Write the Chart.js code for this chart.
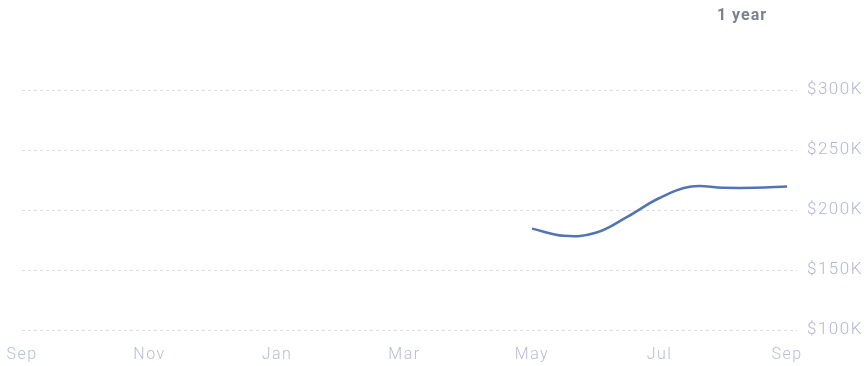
<!DOCTYPE html>
<html>
<head>
<meta charset="utf-8">
<script src="https://cdn.jsdelivr.net/npm/chart.js@4"></script>
<style>
  html, body { margin: 0; padding: 0; background: #fff; }
  #wrap { position: relative; width: 866px; height: 366px; }
  #range { position: absolute; top: 5px; left: 700px; width: 84px; text-align: center;
           font: bold 16px Roboto, sans-serif; color: #7c8094; letter-spacing: 1px; }
</style>
</head>
<body>
<div id="wrap">
  <div id="range">1 year</div>
  <canvas id="valueChart" width="866" height="366"></canvas>
</div>
<script>
// months counted from last September (0) to this September (12)
var monthNames = ['Sep', 'Oct', 'Nov', 'Dec', 'Jan', 'Feb', 'Mar', 'Apr', 'May', 'Jun', 'Jul', 'Aug', 'Sep'];
var monthTicks = [0, 2, 4, 6, 8, 10, 12];

// estimated value, thousands of dollars, every half month since May
var valueMonths = [8, 8.5, 9, 9.5, 10, 10.5, 11, 11.5, 12];
var valueK = [184.5, 178.5, 181, 194.5, 210, 219.5, 218.5, 218.5, 219.5];

var valueTicks = [100, 150, 200, 250, 300];

var points = [];
for (var i = 0; i < valueMonths.length; i++) {
  points.push({ x: valueMonths[i], y: valueK[i] });
}

// wider letter spacing for all axis text
var spacedText = {
  id: 'spacedText',
  beforeUpdate: function(chart) { chart.ctx.letterSpacing = '1.5px'; },
  beforeDraw: function(chart) { chart.ctx.letterSpacing = '1.5px'; }
};

var cx = document.getElementById('valueChart');
var myChart = new Chart(cx, {
  type: 'line',
  data: {
    datasets: [{
      data: points,
      borderColor: '#5274b6',
      borderWidth: 2.5,
      pointRadius: 0,
      fill: false,
      tension: 0.4
    }]
  },
  options: {
    responsive: false,
    animation: false,
    layout: { padding: { top: 90, left: 22, right: 4, bottom: 0 } },
    plugins: { legend: { display: false }, tooltip: { enabled: false } },
    scales: {
      x: {
        type: 'linear',
        min: 0,
        max: 12.157,
        afterBuildTicks: function(axis) {
          axis.ticks = monthTicks.map(function(v) { return { value: v }; });
        },
        afterFit: function(axis) {
          axis.height = 36;
          axis.paddingLeft = 0;
          axis.paddingRight = 0;
        },
        grid: { display: false, drawTicks: false },
        border: { display: false },
        ticks: {
          padding: 15,
          maxRotation: 0,
          autoSkip: false,
          color: '#b9bdd3',
          font: { family: 'Roboto', size: 16, weight: 300 },
          callback: function(v) { return monthNames[v]; }
        }
      },
      y: {
        position: 'right',
        min: 100,
        max: 300,
        afterBuildTicks: function(axis) {
          axis.ticks = valueTicks.map(function(v) { return { value: v }; });
        },
        afterFit: function(axis) {
          axis.width = 65;
          axis.paddingTop = 0;
          axis.paddingBottom = 0;
        },
        border: { display: false, dash: [3, 3] },
        grid: { color: '#dcdce2', lineWidth: 1, drawTicks: false },
        ticks: {
          padding: 10,
          color: '#b3b6d4',
          font: { family: 'Roboto', size: 17, weight: 300 },
          callback: function(v) { return '$' + v + 'K'; }
        }
      }
    }
  },
  plugins: [spacedText]
});
</script>
</body>
</html>
